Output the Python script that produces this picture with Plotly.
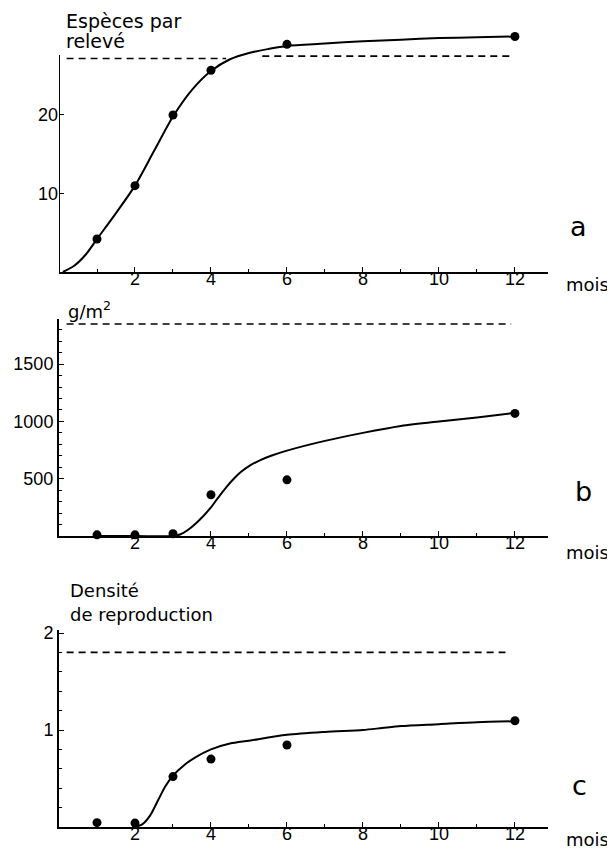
import plotly.graph_objects as go

# ---------------- data ----------------
months = [1, 2, 3, 4, 6, 12]

# panel a : species per relevé
a_points = [4.2, 11.0, 20.0, 25.7, 29.0, 30.0]
a_curve_x = [0.1, 0.4, 0.7, 1.0, 1.5, 2.0, 2.5, 3.0, 3.5, 4.0, 4.5, 5.0, 5.5, 6.0, 7.0, 8.0, 9.0, 10.0, 11.0, 12.0]
a_curve_y = [0.0, 0.8, 2.2, 4.2, 7.5, 11.0, 15.4, 19.8, 23.2, 25.6, 27.1, 27.9, 28.4, 28.8, 29.1, 29.4, 29.6, 29.8, 29.9, 30.0]
a_ref_left_x = [0.2, 4.4]
a_ref_left_y = [27.2, 27.2]
a_ref_right_x = [5.35, 11.95]
a_ref_right_y = [27.5, 27.5]
a_ticks = [10, 20]

# panel b : biomass g/m2
b_points = [10, 10, 20, 360, 490, 1070]
b_curve_x = [1.0, 2.0, 3.0, 3.2, 3.4, 3.6, 3.8, 4.0, 4.2, 4.4, 4.6, 4.8, 5.0, 5.3, 5.6, 6.0, 7.0, 8.0, 9.0, 10.0, 11.0, 12.0]
b_curve_y = [0, 0, 0, 15, 55, 110, 175, 250, 340, 425, 500, 562, 610, 662, 702, 745, 830, 900, 960, 1000, 1035, 1075]
b_ref_x = [0.2, 11.9]
b_ref_y = [1850, 1850]
b_ticks = [500, 1000, 1500]

# panel c : reproduction density
c_points = [0.045, 0.04, 0.52, 0.70, 0.845, 1.095]
c_curve_x = [2.0, 2.2, 2.4, 2.6, 2.8, 3.0, 3.3, 3.6, 4.0, 4.5, 5.0, 6.0, 7.0, 8.0, 8.5, 9.0, 10.0, 11.0, 12.0]
c_curve_y = [0.0, 0.03, 0.12, 0.27, 0.42, 0.53, 0.64, 0.72, 0.80, 0.86, 0.89, 0.95, 0.98, 1.0, 1.02, 1.04, 1.06, 1.08, 1.09]
c_ref_x = [0.2, 11.75]
c_ref_y = [1.8, 1.8]
c_ticks = [1, 2]

x_ticks = [2, 4, 6, 8, 10, 12]

# ---------------- layout helpers ----------------
OFF = 8                 # page body margin
W, H = 615 - OFF, 851 - OFF
L, R = 59, 548          # reference pixel x of plot area
X_MAX = 12.87
LABEL_LIFT = 6          # x tick labels sit close to the axis line

def px(p):
    return (p - L) / (R - L)

def py(q):
    return 1 - (q - OFF) / H

TICKFONT = dict(family="Liberation Sans Narrow, Liberation Sans, Arial", size=18, color="black")

fig = go.Figure()

def add_panel(n, pts, cx, cy, refs):
    xa = "x" if n == 1 else f"x{n}"
    ya = "y" if n == 1 else f"y{n}"
    for rx, ry in refs:
        fig.add_trace(go.Scatter(x=rx, y=ry, mode="lines", xaxis=xa, yaxis=ya,
                                 line=dict(color="black", width=1.6, dash="7px,5px"),
                                 showlegend=False, hoverinfo="skip"))
    fig.add_trace(go.Scatter(x=cx, y=cy, mode="lines", xaxis=xa, yaxis=ya,
                             line=dict(color="black", width=2, shape="spline", smoothing=0.8),
                             showlegend=False))
    fig.add_trace(go.Scatter(x=months, y=pts, mode="markers", xaxis=xa, yaxis=ya,
                             marker=dict(color="black", size=9),
                             cliponaxis=False, showlegend=False))
    # empty trace that activates the label-only overlay x axis of this panel
    fig.add_trace(go.Scatter(x=[], y=[], mode="markers", xaxis=f"x{n + 3}", yaxis=ya,
                             showlegend=False, hoverinfo="skip"))

add_panel(1, a_points, a_curve_x, a_curve_y,
          [(a_ref_left_x, a_ref_left_y), (a_ref_right_x, a_ref_right_y)])
add_panel(2, b_points, b_curve_x, b_curve_y, [(b_ref_x, b_ref_y)])
add_panel(3, c_points, c_curve_x, c_curve_y, [(c_ref_x, c_ref_y)])

def xaxis(anchor):
    return dict(anchor=anchor, range=[0, X_MAX], domain=[0, 1],
                showline=True, linecolor="black", linewidth=2,
                showgrid=False, zeroline=False,
                tickmode="array", tickvals=x_ticks, showticklabels=False,
                ticks="inside", ticklen=5, tickwidth=1.2, tickcolor="black",
                minor=dict(dtick=1, ticks="inside", ticklen=3, tickwidth=1, tickcolor="black"),
                automargin=False, fixedrange=True)

def xlabels(base, axis_px):
    # overlay axis used only for the tick labels, placed just under the axis line
    return dict(overlaying=base, anchor="free", position=py(axis_px - LABEL_LIFT),
                side="bottom", range=[0, X_MAX], domain=[0, 1],
                showline=False, showgrid=False, zeroline=False, ticks="",
                tickmode="array", tickvals=x_ticks, ticktext=[str(v) for v in x_ticks],
                tickfont=TICKFONT, automargin=False, fixedrange=True)

# panel a: y=0 at 272px, 7.85 px/unit, axis line top at 55px
a_bottom = 272
a_scale = 7.85
a_top_val = (a_bottom - 55) / a_scale
a_range_top = 31.5
a_domain = [py(a_bottom), py(a_bottom - a_range_top * a_scale)]

b_bottom, b_top = 536, 319
b_scale = 57.3 / 500
b_range_top = (b_bottom - b_top) / b_scale

c_bottom, c_top = 827, 630
c_scale = 97.0
c_range_top = (c_bottom - c_top) / c_scale

fig.update_layout(
    width=W, height=H,
    margin=dict(l=L - OFF, r=W - (R - OFF), t=0, b=0, pad=0),
    paper_bgcolor="white", plot_bgcolor="white",
    showlegend=False,
    xaxis=xaxis("y"),
    xaxis2=xaxis("y2"),
    xaxis3=xaxis("y3"),
    xaxis4=xlabels("x", a_bottom),
    xaxis5=xlabels("x2", b_bottom),
    xaxis6=xlabels("x3", c_bottom),
    yaxis=dict(anchor="x", domain=a_domain, range=[0, a_range_top],
               showline=False, showgrid=False, zeroline=False,
               tickmode="array", tickvals=a_ticks, ticktext=[str(v) for v in a_ticks],
               ticks="inside", ticklen=5, tickwidth=1.2, tickcolor="black",
               tickfont=TICKFONT, automargin=False, fixedrange=True),
    yaxis2=dict(anchor="x2", domain=[py(b_bottom), py(b_top)], range=[0, b_range_top],
                showline=True, linecolor="black", linewidth=2,
                showgrid=False, zeroline=False,
                tickmode="array", tickvals=b_ticks, ticktext=[str(v) for v in b_ticks],
                ticks="inside", ticklen=5, tickwidth=1.2, tickcolor="black",
                minor=dict(dtick=100, ticks="inside", ticklen=3, tickwidth=1, tickcolor="black"),
                tickfont=TICKFONT, automargin=False, fixedrange=True),
    yaxis3=dict(anchor="x3", domain=[py(c_bottom), py(c_top)], range=[0, c_range_top],
                showline=True, linecolor="black", linewidth=2,
                showgrid=False, zeroline=False,
                tickmode="array", tickvals=c_ticks, ticktext=[str(v) for v in c_ticks],
                ticks="inside", ticklen=5, tickwidth=1.2, tickcolor="black",
                minor=dict(dtick=0.2, ticks="inside", ticklen=3, tickwidth=1, tickcolor="black"),
                tickfont=TICKFONT, automargin=False, fixedrange=True),
)

# y-axis line of panel a stops below the curve plateau
fig.add_shape(type="line", xref="x", yref="y", x0=0, x1=0, y0=0, y1=a_top_val,
              line=dict(color="black", width=2))

ann = []
def text(s, xp, yp, size=18, xanchor="left", yanchor="middle"):
    ann.append(dict(text=s, x=px(xp), y=py(yp), xref="paper", yref="paper",
                    xanchor=xanchor, yanchor=yanchor, align="left", showarrow=False,
                    font=dict(family="DejaVu Sans", size=size, color="black")))

text("Espèces par", 64, 8, size=19, yanchor="top")
text("relevé", 64, 41, size=19)
text("g/m<sup>2</sup>", 66, 310, size=18)
text("Densité", 68, 590, size=18)
text("de reproduction", 68, 614, size=18)
text("a", 578, 226, size=27, xanchor="center")
text("b", 583, 491, size=27, xanchor="center")
text("c", 579, 785, size=27, xanchor="center")
for yy in (284, 552, 839):
    text("mois", 587, yy, size=18, xanchor="center")

fig.update_layout(annotations=ann)
fig.write_html("out.html")
